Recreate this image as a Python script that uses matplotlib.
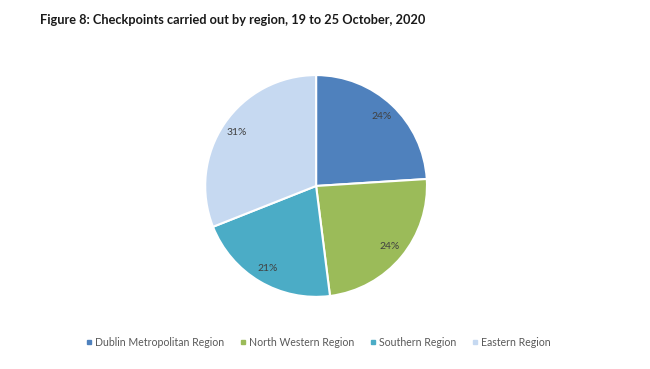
import matplotlib
matplotlib.use('Agg')
import matplotlib.pyplot as plt
from matplotlib.lines import Line2D

# data
regions = ['Dublin Metropolitan Region', 'North Western Region', 'Southern Region', 'Eastern Region']
shares = [24, 24, 21, 31]
colours = ['#4F81BD', '#9BBB59', '#4BACC6', '#C6D9F1']

plt.rcParams['font.family'] = ['Lato', 'DejaVu Sans']

fig = plt.figure(figsize=(6.5, 3.69), dpi=100)

fig.text(40/650, 1 - 20/369, 'Figure 8: Checkpoints carried out by region, 19 to 25 October, 2020',
         ha='left', va='center', fontsize=9.2, fontweight='bold', color='#1a1a1a')

ax = fig.add_axes([0.314, 0.1925, 0.3446, 0.607])
wedges, texts, autotexts = ax.pie(shares, colors=colours, startangle=90, counterclock=False,
                                  autopct='%d%%', pctdistance=0.86, radius=1,
                                  wedgeprops={'edgecolor': 'white', 'linewidth': 1.5},
                                  textprops={'fontsize': 7.5, 'color': '#404040'})
ax.set_xlim(-1.01, 1.01)
ax.set_ylim(-1.01, 1.01)
ax.set_aspect('equal')

handles = [Line2D([], [], marker='s', linestyle='none', markersize=3.5,
                  markerfacecolor=c, markeredgecolor=c) for c in colours]
fig.legend(handles, regions, loc='center', bbox_to_anchor=(318/650, 1 - 342/369), ncol=4,
           frameon=False, fontsize=7.6, handlelength=0.6, handletextpad=0.3,
           columnspacing=1.45, labelcolor='#595959')

plt.savefig('out.png', dpi=100)
